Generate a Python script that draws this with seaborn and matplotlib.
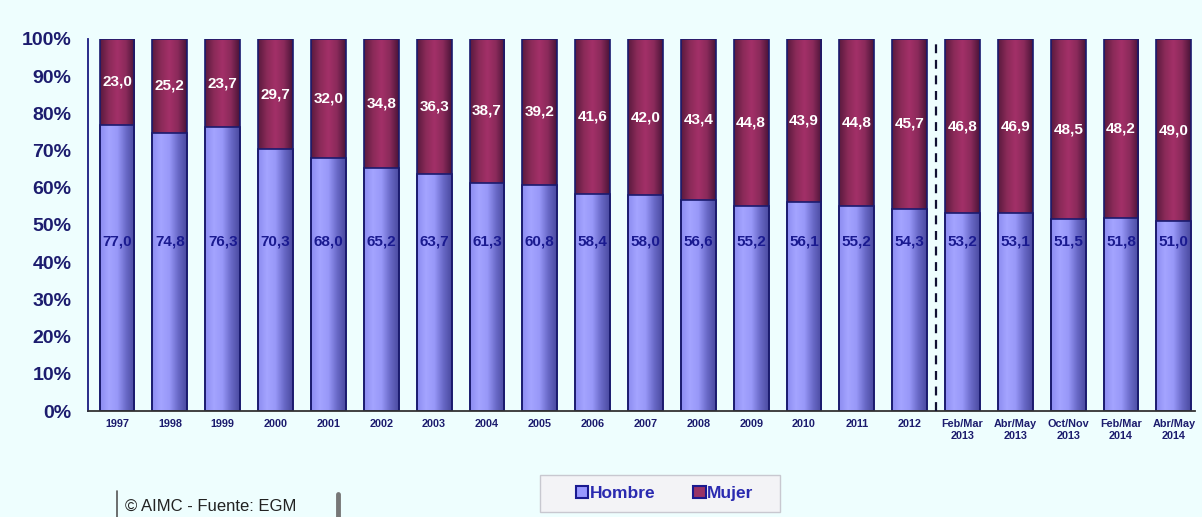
import numpy as np
import pandas as pd
import matplotlib.pyplot as plt
import matplotlib.colors as mcolors
from matplotlib.patches import Patch, Rectangle
from matplotlib.lines import Line2D
import seaborn as sns

# Data
periods = ["1997", "1998", "1999", "2000", "2001", "2002", "2003", "2004", "2005", "2006",
           "2007", "2008", "2009", "2010", "2011", "2012",
           "Feb/Mar\n2013", "Abr/May\n2013", "Oct/Nov\n2013", "Feb/Mar\n2014", "Abr/May\n2014"]
hombre = [77.0, 74.8, 76.3, 70.3, 68.0, 65.2, 63.7, 61.3, 60.8, 58.4,
          58.0, 56.6, 55.2, 56.1, 55.2, 54.3, 53.2, 53.1, 51.5, 51.8, 51.0]
mujer = [23.0, 25.2, 23.7, 29.7, 32.0, 34.8, 36.3, 38.7, 39.2, 41.6,
         42.0, 43.4, 44.8, 43.9, 44.8, 45.7, 46.8, 46.9, 48.5, 48.2, 49.0]

df = pd.DataFrame({"periodo": periods, "Hombre": hombre, "Mujer": mujer})
df["total"] = df["Hombre"] + df["Mujer"]

bg = "#EEFEFE"
navy = "#1C1C6E"
c_hombre = "#9999FF"
c_mujer = "#993366"

sns.set_theme(style="white")
plt.rcParams.update({"font.family": ["Liberation Sans", "DejaVu Sans"]})

fig = plt.figure(figsize=(12.02, 5.17), dpi=100, facecolor=bg)
ax = fig.add_axes([0.0732, 0.205, 0.921, 0.7196], facecolor=bg)

sns.barplot(data=df, x="periodo", y="total", color=c_mujer, width=0.66,
            edgecolor="#1A1A6E", linewidth=1.2, saturation=1, ax=ax)
sns.barplot(data=df, x="periodo", y="Hombre", color=c_hombre, width=0.66,
            edgecolor="#1A1A6E", linewidth=1.2, saturation=1, ax=ax)

# cylinder-like horizontal gradient on every bar
n = len(df)
cmap_h = mcolors.LinearSegmentedColormap.from_list("h", ["#8C8CF0", "#A4A4FF", "#9898F8", "#6A6AC8", "#4A4AA0"])
cmap_m = mcolors.LinearSegmentedColormap.from_list("m", ["#5A1A3E", "#8A2A58", "#A33068", "#8A2A5A", "#4A1438"])
grad = np.linspace(0, 1, 64).reshape(1, -1)
for i, p in enumerate(ax.patches):
    cmap = cmap_m if i < n else cmap_h
    x0, y0 = p.get_x(), p.get_y()
    w, h = p.get_width(), p.get_height()
    im = ax.imshow(grad, cmap=cmap, aspect="auto", extent=[x0, x0 + w, y0, y0 + h], zorder=p.get_zorder())
    im.set_clip_path(p)
    p.set_facecolor("none")
    p.set_zorder(p.get_zorder() + 0.5)

# value labels
for i in range(n):
    ax.text(i, 45.5, f"{hombre[i]:.1f}".replace(".", ","), ha="center", va="center",
            fontsize=11, fontweight="bold", color="#1A1A90", zorder=5)
    ax.text(i, hombre[i] + mujer[i] / 2, f"{mujer[i]:.1f}".replace(".", ","), ha="center", va="center",
            fontsize=11, fontweight="bold", color="white", zorder=5)

# separator between annual data and waves
ax.axvline(15.5, color="#111133", linestyle=(0, (4, 3)), linewidth=1.6, zorder=6)

ax.set_xlim(-0.55, n - 0.6)
ax.set_ylim(0, 100)
ax.set_yticks(range(0, 101, 10))
ax.set_yticklabels([f"{v}%" for v in range(0, 101, 10)], fontsize=14, fontweight="bold", color=navy)
ax.set_xticks(range(n))
ax.set_xticklabels(periods, fontsize=7.8, fontweight="bold", color=navy, linespacing=1.25)
ax.tick_params(axis="y", length=0, pad=12)
ax.tick_params(axis="x", length=0, pad=6)
ax.set_xlabel("")
ax.set_ylabel("")
for s in ["top", "right"]:
    ax.spines[s].set_visible(False)
ax.spines["left"].set_color("#1A1A80")
ax.spines["bottom"].set_color("#333333")
ax.spines["left"].set_linewidth(1.3)
ax.spines["bottom"].set_linewidth(1.3)

# legend with a wide box drawn behind it
fig.patches.append(Rectangle((0.449, 0.0097), 0.2, 0.0715, transform=fig.transFigure,
                             facecolor="#F3F3F6", edgecolor="#C8C8D0", linewidth=1.0, zorder=1))
handles = [Patch(facecolor=c_hombre, edgecolor="#1A1A90", linewidth=1.5, label="Hombre"),
           Patch(facecolor=c_mujer, edgecolor="#1A1A90", linewidth=1.5, label="Mujer")]
leg = fig.legend(handles=handles, loc="center", bbox_to_anchor=(0.553, 0.045), ncol=2, frameon=False,
                 fontsize=12.5, handlelength=0.7, handleheight=0.7, handletextpad=0.1, columnspacing=2.2)
for t in leg.get_texts():
    t.set_color("#2A2AB0")
    t.set_fontweight("bold")

# source note at the bottom edge
fig.text(0.104, 0.006, "\u00a9 AIMC - Fuente: EGM", fontsize=12, color="#222222", ha="left", va="bottom")
fig.lines.append(Line2D([0.0975, 0.0975], [0.0, 0.05], transform=fig.transFigure, color="#555555", linewidth=1.2))
fig.lines.append(Line2D([0.2815, 0.2815], [0.0, 0.044], transform=fig.transFigure, color="#777777", linewidth=3.5))

fig.savefig("out.png", dpi=100, facecolor=bg)
